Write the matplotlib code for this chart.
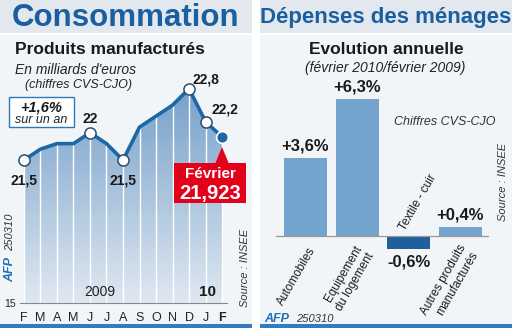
import numpy as np
import matplotlib
matplotlib.use("Agg")
import matplotlib.pyplot as plt
from matplotlib.patches import Rectangle, Polygon
from matplotlib.colors import LinearSegmentedColormap

plt.rcParams['font.family'] = ['Liberation Sans', 'DejaVu Sans']

# left chart data: monthly values, billions of euros
months = ['F', 'M', 'A', 'M', 'J', 'J', 'A', 'S', 'O', 'N', 'D', 'J', 'F']
values = [21.5, 21.7, 21.8, 21.8, 22.0, 21.8, 21.5, 22.1, 22.3, 22.5, 22.8, 22.2, 21.923]
labelled = [0, 4, 6, 10, 11]
point_labels = ['21,5', '22', '21,5', '22,8', '22,2']

# right chart data: annual change, %
categories = ['Automobiles', 'Equipement\ndu logement', 'Textile - cuir',
              'Autres produits\nmanufacturés']
changes = [3.6, 6.3, -0.6, 0.4]
change_labels = ['+3,6%', '+6,3%', '-0,6%', '+0,4%']

blue = '#1c67a6'
title_blue = '#1a5fa0'
red = '#e3001b'

W, H = 512, 328
fig = plt.figure(figsize=(W / 100, H / 100), dpi=100)


def fx(px):
    return px / W


def fy(py):
    return 1 - py / H


def rect(x0, y0, x1, y1, **kw):
    fig.add_artist(Rectangle((fx(x0), fy(y1)), fx(x1) - fx(x0), fy(y0) - fy(y1),
                             transform=fig.transFigure, **kw))


def ftext(x, y, s, **kw):
    fig.text(fx(x), fy(y), s, **kw)


# panel backgrounds
for x0, x1 in [(0, 252), (260, 512)]:
    rect(x0, 0, x1, 33, color='#e3e8ee', lw=0, zorder=0)
    rect(x0, 35, x1, 324, color='#f2f5f8', lw=0, zorder=0)
    rect(x0, 324, x1, 328, color='#2f7cc0', lw=0, zorder=0)

ftext(126, 18, 'Consommation', ha='center', va='center', fontsize=22.5,
      fontweight='bold', color=title_blue)
ftext(386, 18, 'Dépenses des ménages', ha='center', va='center', fontsize=16,
      fontweight='bold', color=title_blue)

# ---------------- left panel
ftext(15, 50, 'Produits manufacturés', va='center', fontsize=12.5, fontweight='bold',
      color='#1a1a1a')
ftext(15, 70, "En milliards d'euros", va='center', fontsize=10, style='italic',
      color='#222222')
ftext(25, 85, '(chiffres CVS-CJO)', va='center', fontsize=9, style='italic',
      color='#222222')


# y axis is broken below 21: compress the part down to the 15 baseline
def fwd(v):
    v = np.asarray(v, dtype=float)
    return np.where(v < 21, 21 - (21 - v) * 0.35, v)


def inv(u):
    u = np.asarray(u, dtype=float)
    return np.where(u < 21, 21 - (21 - u) / 0.35, u)


ax1 = fig.add_axes([fx(20), fy(303), fx(227) - fx(20), (303 - 70) / H])
ax1.set_facecolor('none')
ax1.set_yscale('function', functions=(fwd, inv))
x = np.arange(len(values))

fill = ax1.fill_between(x, 15, values, color='none', lw=0)
cmap = LinearSegmentedColormap.from_list('g', ['#dfe8f1', '#6d9bc7'])
grad = np.linspace(0, 1, 256).reshape(-1, 1)
img = ax1.imshow(grad, extent=[0, 1, 0, 1], transform=ax1.transAxes, origin='lower',
                 aspect='auto', cmap=cmap, zorder=1)
img.set_clip_path(fill.get_paths()[0], transform=ax1.transData)
ax1.vlines(x, 15, values, colors='white', lw=1, zorder=2)
ax1.plot(x, values, color=blue, lw=2.6, zorder=3, clip_on=False)
ax1.plot(x[labelled], np.array(values)[labelled], 'o', ms=8, mfc='white',
         mec='#2a4d6e', mew=1.1, zorder=4, clip_on=False)
ax1.plot(x[-1], values[-1], 'o', ms=8.5, mfc=blue, mec='white', mew=1.2, zorder=4,
         clip_on=False)

offsets = [(0, -14.5), (0, 9.5), (0, -14.5), (12, 6.5), (14, 8.5)]
for i, lab, off in zip(labelled, point_labels, offsets):
    ax1.annotate(lab, (x[i], values[i]), xytext=off, textcoords='offset points',
                 ha='center', va='center', fontsize=10, fontweight='bold',
                 color='#1a1a1a')

ax1.set_xlim(-0.24, 12.3)
ax1.set_ylim(15, 23.14)
for s in ['top', 'right', 'left']:
    ax1.spines[s].set_visible(False)
ax1.spines['bottom'].set_color('#888888')
ax1.spines['bottom'].set_linewidth(0.8)
ax1.set_yticks([])
ax1.set_xticks(x)
ax1.set_xticklabels(months, fontsize=9, color='#222222')
ax1.get_xticklabels()[-1].set_fontweight('bold')
ax1.tick_params(axis='x', length=0, pad=6.5)

ftext(16, 304, '15', ha='right', va='center', fontsize=7.5, color='#222222')
ftext(100, 292, '2009', ha='center', va='center', fontsize=10, color='#222222')
ftext(207, 292, '10', ha='center', va='center', fontsize=11, fontweight='bold',
      color='#1a1a1a')

# +1,6% box
rect(9, 97, 74, 127, facecolor='white', edgecolor='#2d78b8', lw=1, zorder=5)
ftext(41.5, 107, '+1,6%', ha='center', va='center', fontsize=10.5, fontweight='bold',
      style='italic', color='#1a1a1a', zorder=6)
ftext(41.5, 120, 'sur un an', ha='center', va='center', fontsize=9, style='italic',
      color='#222222', zorder=6)

# red callout
rect(174, 163, 246, 203, color=red, lw=0, zorder=5)
fig.add_artist(Polygon([(fx(215), fy(164)), (fx(229), fy(164)), (fx(222), fy(147))],
                       closed=True, transform=fig.transFigure, color=red, lw=0,
                       zorder=5))
ftext(210, 174, 'Février', ha='center', va='center', fontsize=11, fontweight='bold',
      color='white', zorder=6)
ftext(210, 193, '21,923', ha='center', va='center', fontsize=14.5, fontweight='bold',
      color='white', zorder=6)

ftext(245, 268, 'Source : INSEE', ha='center', va='center', rotation=90,
      fontsize=8, style='italic', color='#333333')
ftext(10, 232, '250310', ha='center', va='center', rotation=90, fontsize=8,
      style='italic', color='#333333')
ftext(10, 270, 'AFP', ha='center', va='center', rotation=90, fontsize=9,
      fontweight='bold', style='italic', color='#1f6fb8')

# ---------------- right panel
ftext(386, 50, 'Evolution annuelle', ha='center', va='center', fontsize=12.5,
      fontweight='bold', color='#1a1a1a')
ftext(385, 68, '(février 2010/février 2009)', ha='center', va='center', fontsize=10,
      style='italic', color='#222222')
ftext(445, 122, 'Chiffres CVS-CJO', ha='center', va='center', fontsize=9,
      style='italic', color='#333333')

ax2 = fig.add_axes([fx(276), fy(260), fx(489) - fx(276), (260 - 90) / H])
ax2.set_facecolor('none')
pos = np.arange(len(changes))
colors = ['#74a3cd' if v >= 0 else '#1f5f9c' for v in changes]
ax2.bar(pos, changes, width=0.835, color=colors, zorder=2)
ax2.axhline(0, color='#999999', lw=0.9, zorder=3)
for i, (v, lab) in enumerate(zip(changes, change_labels)):
    if v >= 0:
        ax2.text(i, v + 0.2, lab, ha='center', va='bottom', fontsize=12,
                 fontweight='bold', color='#1a1a1a')
    else:
        ax2.text(i, v - 0.25, lab, ha='center', va='top', fontsize=12,
                 fontweight='bold', color='#1a1a1a')

ax2.text(0.05, -0.4, categories[0], rotation=60, rotation_mode='anchor', ha='right',
         va='top', fontsize=8.5, color='#1a1a1a')
ax2.text(0.95, -0.35, categories[1], rotation=60, rotation_mode='anchor', ha='right',
         va='top', fontsize=8.5, color='#1a1a1a', multialignment='right')
ax2.text(1.98, 0.15, categories[2], rotation=60, rotation_mode='anchor', ha='left',
         va='bottom', fontsize=8.5, color='#1a1a1a')
ax2.text(2.97, -0.3, categories[3], rotation=60, rotation_mode='anchor', ha='right',
         va='top', fontsize=8.5, color='#1a1a1a', multialignment='right')

ax2.set_xlim(-0.573, 3.56)
ax2.set_ylim(-1.10, 6.70)
ax2.axis('off')

ftext(503, 182, 'Source : INSEE', ha='center', va='center', rotation=90,
      fontsize=8, style='italic', color='#333333')
ftext(264, 319, 'AFP', ha='left', va='center', fontsize=9, fontweight='bold',
      style='italic', color='#1f6fb8')
ftext(296, 319, '250310', ha='left', va='center', fontsize=8, style='italic',
      color='#333333')

fig.savefig('out.png', dpi=100)
